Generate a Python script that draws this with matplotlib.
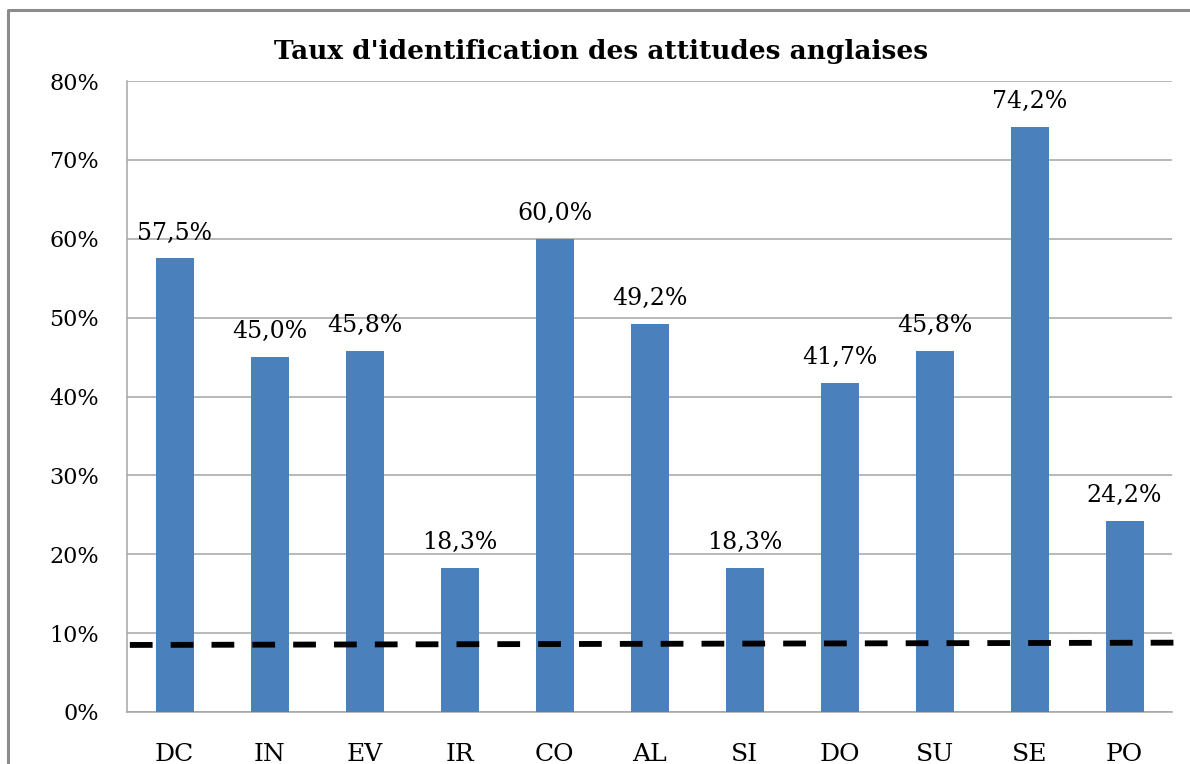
import matplotlib.pyplot as plt
import numpy as np
from matplotlib.lines import Line2D
from matplotlib.ticker import FuncFormatter

# données
categories = ['DC', 'IN', 'EV', 'IR', 'CO', 'AL', 'SI', 'DO', 'SU', 'SE', 'PO']
taux = [57.5, 45.0, 45.8, 18.3, 60.0, 49.2, 18.3, 41.7, 45.8, 74.2, 24.2]
seuil_x = [-0.47, 10.9]
seuil_y = [8.5, 8.8]
yticks = [0, 10, 20, 30, 40, 50, 60, 70, 80]

plt.rcParams['font.family'] = ['DejaVu Serif']

fig = plt.figure(figsize=(11.9, 7.64), dpi=100)
ax = fig.add_axes([127 / 1190, 1 - 712 / 764, (1172 - 127) / 1190, (712 - 81) / 764])

x = np.arange(len(categories))
ax.bar(x, taux, width=0.4, color='#4a81bd', zorder=3)
for xi, v in zip(x, taux):
    ax.annotate(('%.1f%%' % v).replace('.', ','), (xi, v), xytext=(0, 10),
                textcoords='offset points', ha='center', va='bottom', fontsize=17)

ax.plot(seuil_x, seuil_y, color='black', lw=4.2, dashes=(3.9, 3.1), zorder=4, clip_on=False)

ax.set_xlim(-0.5, len(categories) - 0.5)
ax.set_ylim(0, 80)
ax.set_yticks(yticks)
ax.yaxis.set_major_formatter(FuncFormatter(lambda v, p: '%d%%' % v))
ax.set_xticks(x)
ax.set_xticklabels(categories)
ax.tick_params(axis='y', length=0, pad=20, labelsize=16)
ax.tick_params(axis='x', length=0, pad=22, labelsize=18)
ax.grid(axis='y', color='#a6a6a6', lw=1.1, zorder=0)
for s in ['top', 'right']:
    ax.spines[s].set_visible(False)
for s in ['left', 'bottom']:
    ax.spines[s].set_color('#a6a6a6')
    ax.spines[s].set_linewidth(1.1)

fig.text(601 / 1190, 1 - 52 / 764, "Taux d'identification des attitudes anglaises",
         ha='center', va='center', fontsize=19, fontweight='bold')

# cadre du graphique
fig.add_artist(Line2D([8 / 1190, 8 / 1190, 1.0], [0.0, 1 - 10 / 764, 1 - 10 / 764],
                      color='#8c8c8c', lw=2.2))

plt.savefig('out.png', dpi=100)
